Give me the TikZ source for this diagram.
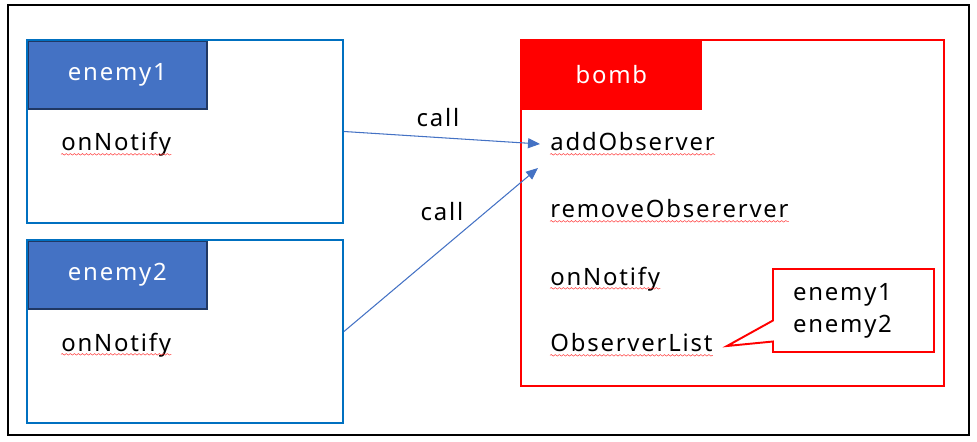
\documentclass[tikz,border=0pt]{standalone}
\usepackage{fontspec}
\setmainfont{Noto Sans}[LetterSpace=7.5]
\usetikzlibrary{arrows.meta,shapes.callouts,decorations.pathmorphing}
\definecolor{clsblue}{HTML}{0070C0}
\definecolor{hdrblue}{HTML}{4472C4}
\definecolor{hdrnavy}{HTML}{203864}
\begin{document}
\begin{tikzpicture}[font=\fontsize{13.6}{18.2}\selectfont]
\tikzset{cls/.style={draw=clsblue, line width=1.1pt, minimum width=6.32cm, minimum height=3.66cm},
    bombcls/.style={draw=red, line width=1.1pt, minimum width=8.46cm, minimum height=6.92cm},
    hdr/.style={fill=hdrblue, draw=hdrnavy, line width=1pt, minimum width=3.58cm,
        minimum height=1.36cm, text=white, anchor=north west},
    memb/.style={anchor=base west, inner sep=0pt},
    squig/.style={draw=red!75, line width=0.3pt, decorate,
        decoration={snake, amplitude=0.45pt, segment length=2.3pt}},
    call/.style={-{Triangle[length=2.4mm,width=2mm]}, draw=hdrblue, line width=0.6pt},
    note/.style={rectangle callout, draw=red, line width=1.1pt, minimum width=3.22cm,
        minimum height=1.66cm, text width=2.42cm, align=left, callout pointer width=0.42cm}}
\useasboundingbox (0,0) rectangle (19.54,-8.84);

% outer frame
\draw[line width=1.1pt] (0.16,-0.1) rectangle (19.38,-8.7);

% enemy classes
\node[hdr] (h1) at (0.54,-0.8) {enemy1};
\node[cls] (e1) at (3.7,-2.63) {};
\node[memb] (n1) at (1.22,-3.02) {onNotify};

\node[hdr] (h2) at (0.54,-4.8) {enemy2};
\node[cls] (e2) at (3.7,-6.63) {};
\node[memb] (n2) at (1.22,-7.02) {onNotify};

% bomb class
\node[hdr, fill=red, draw=red] (hb) at (10.42,-0.8) {bomb};
\node[bombcls] (bomb) at (14.65,-4.26) {};
\node[memb] (add) at (11.0,-3.02) {addObserver};
\node[memb] (rem) at (11.0,-4.36) {removeObsererver};
\node[memb] (nb) at (11.0,-5.70) {onNotify};
\node[memb] (ol) at (11.0,-7.04) {ObserverList};

% spell-check marks
\foreach \m in {n1,n2,add,rem,nb,ol}
    \draw[squig] ([yshift=-1.9pt]\m.base west) -- ([yshift=-1.9pt]\m.base east);

% observer list callout
\coordinate (tip) at (14.54,-6.92);
\node[note, callout absolute pointer={(tip)}] (lst) at (17.07,-6.21) {enemy1\\enemy2};

% calls
\coordinate (in1) at (10.8,-2.88);
\coordinate (in2) at (10.76,-3.36);
\draw[call] (e1.east) -- (in1);
\draw[call] (e2.east) -- (in2);
\node (c1) at (8.76,-2.36) {call};
\node (c2) at (8.84,-4.24) {call};

\end{tikzpicture}
\end{document}
